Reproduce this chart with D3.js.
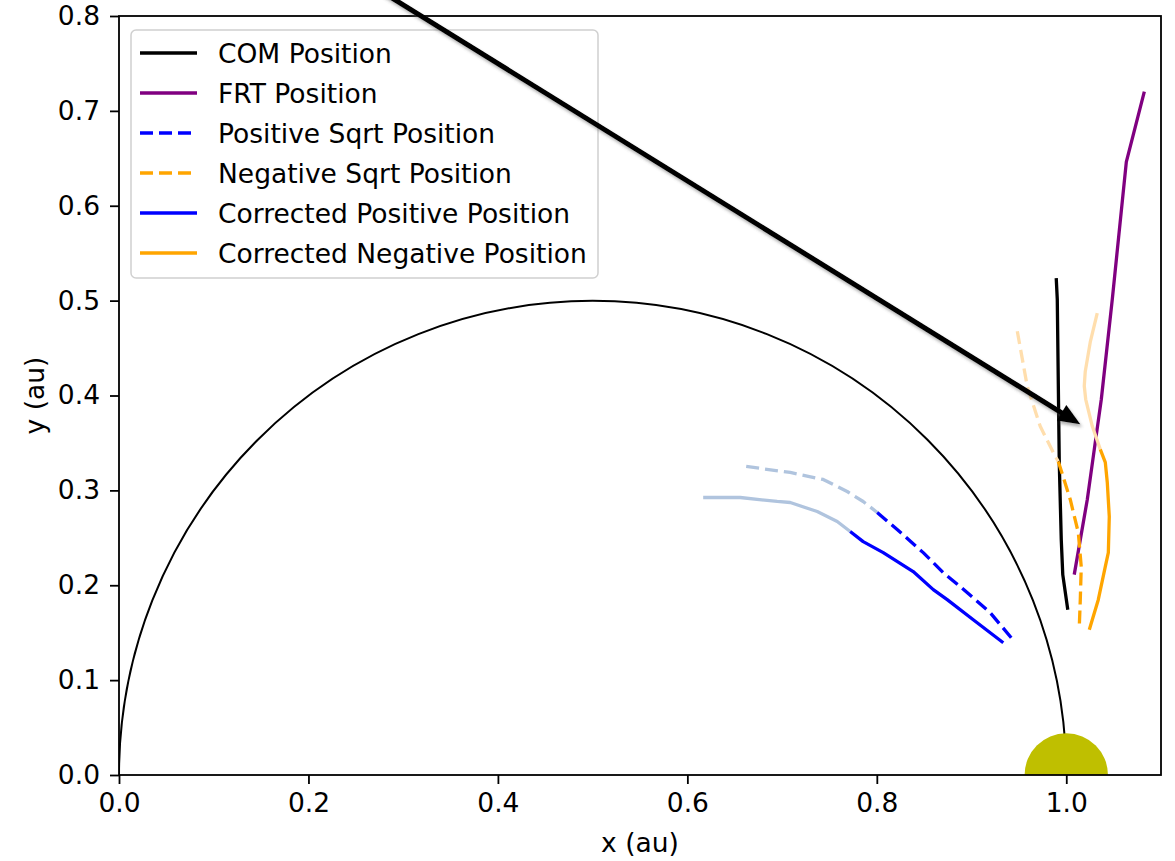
<!DOCTYPE html>
<html>
<head>
<meta charset="utf-8">
<script src="https://cdn.jsdelivr.net/npm/d3@7"></script>
<style>
  body { margin: 0; background: #fff; }
  svg { display: block; font-family: "DejaVu Sans", sans-serif; }
</style>
</head>
<body>
<div id="chart"></div>
<script>
// trajectory data in au
// each series has a faded early part and a full-colour later part
var comPos = [[0.9894,0.5238],[0.9905,0.5016],[0.9926,0.3295],[0.9947,0.2482],[0.9963,0.2112],[1.0016,0.1742]];
var frtPos = [[1.0824,0.7202],[1.0634,0.6463],[1.0486,0.5016],[1.0370,0.3960],[1.0306,0.3506],[1.0222,0.2904],[1.0084,0.2112]];

var posSqrtFaded = [[0.6621,0.3252],[0.7086,0.3189],[0.7434,0.3115],[0.7687,0.2988],[0.7856,0.2883],[0.8004,0.2767]];
var posSqrt = [[0.8004,0.2767],[0.8215,0.2587],[0.8490,0.2344],[0.8701,0.2133],[0.8881,0.1985],[0.9197,0.1711],[0.9419,0.1447]];

var negSqrtFaded = [[0.9483,0.4678],[0.9588,0.4097],[0.9725,0.3675],[0.9884,0.3358],[0.9916,0.3305]];
var negSqrt = [[0.9916,0.3305],[1.0042,0.2904],[1.0127,0.2555],[1.0158,0.2196],[1.0148,0.1848],[1.0137,0.1552]];

var corrPosFaded = [[0.6167,0.2925],[0.6558,0.2925],[0.6948,0.2883],[0.7086,0.2872],[0.7371,0.2777],[0.7582,0.2672],[0.7719,0.2566]];
var corrPos = [[0.7719,0.2566],[0.7856,0.2460],[0.8068,0.2344],[0.8384,0.2144],[0.8596,0.1954],[0.8743,0.1848],[0.9018,0.1637],[0.9335,0.1394]];

var corrNegFaded = [[1.0327,0.4868],[1.0253,0.4562],[1.0200,0.4250],[1.0190,0.4100],[1.0205,0.3960],[1.0275,0.3675],[1.0359,0.3432]];
var corrNeg = [[1.0359,0.3432],[1.0412,0.3295],[1.0433,0.3083],[1.0454,0.2724],[1.0444,0.2344],[1.0412,0.2196],[1.0338,0.1848],[1.0243,0.1531]];

// arrow annotation: from text point (off the top) to tip
var arrowFrom = [0.23, 0.855];
var arrowTo = [1.0148, 0.3696];

var sunRadius = 0.044;
var orbitRadius = 0.5;

var xTicks = [0, 0.2, 0.4, 0.6, 0.8, 1.0];
var yTicks = [0, 0.1, 0.2, 0.3, 0.4, 0.5, 0.6, 0.7, 0.8];

var legendItems = [
  {label: "COM Position", color: "black", dash: null},
  {label: "FRT Position", color: "purple", dash: null},
  {label: "Positive Sqrt Position", color: "blue", dash: "13,6"},
  {label: "Negative Sqrt Position", color: "orange", dash: "13,6"},
  {label: "Corrected Positive Position", color: "blue", dash: null},
  {label: "Corrected Negative Position", color: "orange", dash: null}
];

var svgWidth = 1175;
var svgHeight = 861;
var fontSize = "26.5px";
var plot = {left: 119, right: 1161, top: 16, bottom: 775};

var svg = d3.select("#chart").append("svg")
  .attr("width", svgWidth)
  .attr("height", svgHeight);

var x = d3.scaleLinear().domain([0, 1.1]).range([plot.left, plot.right]);
var y = d3.scaleLinear().domain([0, 0.8]).range([plot.bottom, plot.top]);

var defs = svg.append("defs");
defs.append("clipPath").attr("id", "clip")
  .append("rect")
  .attr("x", plot.left).attr("y", plot.top)
  .attr("width", plot.right - plot.left)
  .attr("height", plot.bottom - plot.top);

var shadow = defs.append("filter").attr("id", "shadow")
  .attr("x", "-10%").attr("y", "-10%").attr("width", "120%").attr("height", "120%");
shadow.append("feDropShadow")
  .attr("dx", 2).attr("dy", 3)
  .attr("stdDeviation", 1.6)
  .attr("flood-color", "#555")
  .attr("flood-opacity", 0.45);

var chart = svg.append("g").attr("clip-path", "url(#clip)");

// half orbit r = 0.5 centred at 0.5
chart.append("path")
  .attr("d", "M" + x(0) + "," + y(0) +
    " A" + (x(orbitRadius) - x(0)) + "," + (y(0) - y(orbitRadius)) + " 0 0 1 " + x(1) + "," + y(0))
  .attr("fill", "none")
  .attr("stroke", "black")
  .attr("stroke-width", 2);

var line = d3.line().curve(d3.curveMonotoneY).x(d => x(d[0])).y(d => y(d[1]));
var lineX = d3.line().x(d => x(d[0])).y(d => y(d[1]));

function drawLine(data, color, dash) {
  chart.append("path")
    .datum(data)
    .attr("d", lineX)
    .attr("fill", "none")
    .attr("stroke", color)
    .attr("stroke-width", 3.3)
    .attr("stroke-dasharray", dash)
    .attr("stroke-linejoin", "round");
}

drawLine(comPos, "black", null);
drawLine(frtPos, "purple", null);
drawLine(posSqrtFaded, "lightsteelblue", "13,6");
drawLine(posSqrt, "blue", "13,6");
drawLine(negSqrtFaded, "navajowhite", "13,6");
drawLine(negSqrt, "orange", "13,6");
drawLine(corrPosFaded, "lightsteelblue", null);
drawLine(corrPos, "blue", null);
drawLine(corrNegFaded, "navajowhite", null);
drawLine(corrNeg, "orange", null);

// sun
chart.append("circle")
  .attr("cx", x(1)).attr("cy", y(0))
  .attr("r", x(sunRadius) - x(0))
  .attr("fill", "#bfbf00");

// axes
var xAxis = svg.append("g")
  .attr("transform", `translate(0, ${plot.bottom})`)
  .call(d3.axisBottom(x).tickValues(xTicks).tickFormat(d3.format(".1f")).tickSizeInner(9).tickSizeOuter(0).tickPadding(9));
var yAxis = svg.append("g")
  .attr("transform", `translate(${plot.left}, 0)`)
  .call(d3.axisLeft(y).tickValues(yTicks).tickFormat(d3.format(".1f")).tickSizeInner(9).tickSizeOuter(0).tickPadding(10));

[xAxis, yAxis].forEach(function(ax) {
  ax.select(".domain").remove();
  ax.selectAll("line").attr("stroke", "black").attr("stroke-width", 1.8);
  ax.selectAll("text").attr("font-size", fontSize).attr("fill", "black")
    .attr("font-family", "DejaVu Sans");
});

// frame
svg.append("rect")
  .attr("x", plot.left).attr("y", plot.top)
  .attr("width", plot.right - plot.left)
  .attr("height", plot.bottom - plot.top)
  .attr("fill", "none")
  .attr("stroke", "black")
  .attr("stroke-width", 1.8);

// axis labels
svg.append("text")
  .attr("x", (plot.left + plot.right) / 2)
  .attr("y", 852)
  .attr("text-anchor", "middle")
  .attr("font-size", fontSize)
  .text("x (au)");

svg.append("text")
  .attr("transform", `translate(44, ${(plot.top + plot.bottom) / 2}) rotate(-90)`)
  .attr("text-anchor", "middle")
  .attr("font-size", fontSize)
  .text("y (au)");

// legend
var legend = svg.append("g");
legend.append("rect")
  .attr("x", 131).attr("y", 30)
  .attr("width", 467).attr("height", 248)
  .attr("rx", 5)
  .attr("fill", "white").attr("fill-opacity", 0.8)
  .attr("stroke", "#d0d0d0").attr("stroke-width", 1.5);

legendItems.forEach(function(item, i) {
  var ly = 53 + i * 40;
  legend.append("line")
    .attr("x1", 140).attr("x2", 197)
    .attr("y1", ly).attr("y2", ly)
    .attr("stroke", item.color)
    .attr("stroke-width", 3.3)
    .attr("stroke-dasharray", item.dash);
  legend.append("text")
    .attr("x", 218).attr("y", ly)
    .attr("dy", "0.36em")
    .attr("font-size", fontSize)
    .text(item.label);
});

// annotation arrow with shadow
var ax0 = x(arrowFrom[0]), ay0 = y(arrowFrom[1]);
var ax1 = x(arrowTo[0]), ay1 = y(arrowTo[1]);
var ang = Math.atan2(ay1 - ay0, ax1 - ax0);
var headLen = 22, headHalf = 9;
var bx = ax1 - headLen * Math.cos(ang), by = ay1 - headLen * Math.sin(ang);
var arrowG = svg.append("g").attr("filter", "url(#shadow)");
arrowG.append("line")
  .attr("x1", ax0).attr("y1", ay0)
  .attr("x2", bx + 2 * Math.cos(ang)).attr("y2", by + 2 * Math.sin(ang))
  .attr("stroke", "black")
  .attr("stroke-width", 5);
arrowG.append("path")
  .attr("d", "M" + ax1 + "," + ay1 +
    "L" + (bx - headHalf * Math.sin(ang)) + "," + (by + headHalf * Math.cos(ang)) +
    "L" + (bx + headHalf * Math.sin(ang)) + "," + (by - headHalf * Math.cos(ang)) + "Z")
  .attr("fill", "black");
</script>
</body>
</html>
